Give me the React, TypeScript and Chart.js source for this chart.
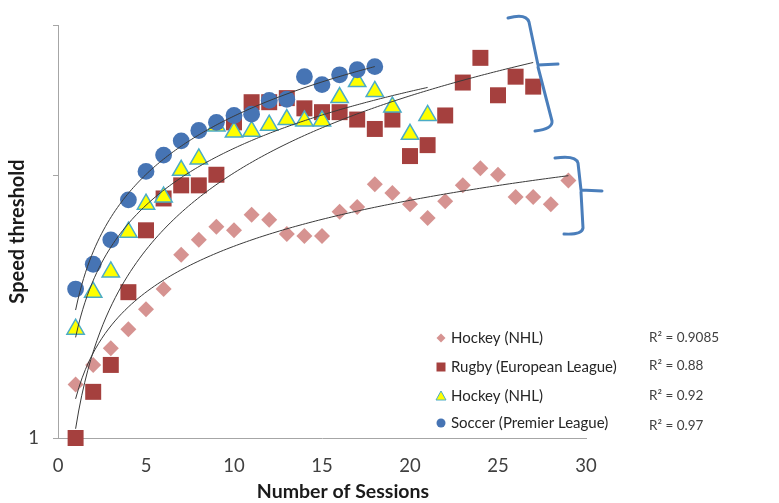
import React, { useEffect, useRef } from "react";
import { Chart, registerables } from "chart.js";

Chart.register(...registerables);

// ---- data ----
const X_TICKS = [0, 5, 10, 15, 20, 25, 30];
const Y_TICKS = [1, 10, 37.6];
const X_TITLE = "Number of Sessions";
const Y_TITLE = "Speed threshold";

const hockeyNhlA = [1.6, 1.9, 2.2, 2.6, 3.1, 3.7, 5.0, 5.7, 6.4, 6.2, 7.1, 6.8, 6.0, 5.9, 5.9, 7.3, 7.6, 9.3, 8.6, 7.8, 6.9, 8.0, 9.2, 10.7, 10.1, 8.3, 8.3, 7.8, 9.6];
const rugby = [1.0, 1.5, 1.9, 3.6, 6.2, 8.2, 9.2, 9.2, 10.1, 16.0, 19.1, 19.1, 19.8, 18.1, 17.5, 17.5, 16.4, 15.1, 16.4, 11.9, 13.1, 17.0, 22.7, 28.2, 20.3, 23.9, 21.9];
const hockeyNhlB = [2.6, 3.6, 4.3, 6.1, 7.8, 8.3, 10.5, 11.6, 15.5, 14.7, 14.8, 15.6, 16.4, 16.2, 16.2, 19.9, 22.9, 21.0, 18.3, 14.4, 17.0];
const soccer = [3.7, 4.6, 5.7, 8.1, 10.4, 12.0, 13.6, 14.9, 16.0, 17.0, 17.2, 19.4, 19.6, 23.9, 22.3, 24.3, 25.4, 26.1];

const LEGEND_LABELS = ["Hockey (NHL)", "Rugby (European League)", "Hockey (NHL)", "Soccer (Premier League)"];
const R2_LABELS = ["R² = 0.9085", "R² = 0.88", "R² = 0.92", "R² = 0.97"];

const COLORS = {
  diamond: "#d69391",
  square: "#a5403e",
  triFill: "#ffff00",
  triBorder: "#4bacc6",
  circle: "#4674b4",
  trend: "#3a3a3a",
  axis: "#a6a6a6",
  brace: "#4a7ebb",
};

const FONT = "Lato, 'Open Sans', sans-serif";

function toPoints(values: number[]) {
  return values.map((v, i) => ({ x: i + 1, y: v }));
}

// power trendline (least squares of ln y on ln x), as the spreadsheet does
function powerTrend(values: number[]) {
  const xs = values.map((_, i) => i + 1);
  const L = xs.map((x) => Math.log(x));
  const Y = values.map((v) => Math.log(v));
  const n = values.length;
  const mL = L.reduce((s, v) => s + v, 0) / n;
  const mY = Y.reduce((s, v) => s + v, 0) / n;
  let sxy = 0;
  let sxx = 0;
  for (let i = 0; i < n; i++) {
    sxy += (L[i] - mL) * (Y[i] - mY);
    sxx += (L[i] - mL) * (L[i] - mL);
  }
  const k = sxy / sxx;
  const c = Math.exp(mY - k * mL);
  const x0 = xs[0];
  const x1 = xs[n - 1];
  const pts: { x: number; y: number }[] = [];
  const steps = 150;
  for (let i = 0; i <= steps; i++) {
    const x = x0 + ((x1 - x0) * i) / steps;
    pts.push({ x, y: c * Math.pow(x, k) });
  }
  return pts;
}

function drawLegendMarker(ctx: CanvasRenderingContext2D, kind: number, x: number, y: number) {
  ctx.save();
  ctx.beginPath();
  if (kind === 0) {
    ctx.moveTo(x, y - 4.5);
    ctx.lineTo(x + 4.5, y);
    ctx.lineTo(x, y + 4.5);
    ctx.lineTo(x - 4.5, y);
    ctx.closePath();
    ctx.fillStyle = COLORS.diamond;
    ctx.fill();
  } else if (kind === 1) {
    ctx.rect(x - 4.5, y - 4.5, 9, 9);
    ctx.fillStyle = COLORS.square;
    ctx.fill();
  } else if (kind === 2) {
    ctx.moveTo(x, y - 5);
    ctx.lineTo(x + 5, y + 4);
    ctx.lineTo(x - 5, y + 4);
    ctx.closePath();
    ctx.fillStyle = COLORS.triFill;
    ctx.fill();
    ctx.lineWidth = 1;
    ctx.strokeStyle = COLORS.triBorder;
    ctx.stroke();
  } else {
    ctx.arc(x, y, 4.5, 0, Math.PI * 2);
    ctx.fillStyle = COLORS.circle;
    ctx.fill();
  }
  ctx.restore();
}

const annotationPlugin = {
  id: "annotations",
  afterDraw(chart: any) {
    const ctx: CanvasRenderingContext2D = chart.ctx;
    ctx.save();
    // x-axis title
    ctx.fillStyle = "#1a1a1a";
    ctx.font = `bold 19.5px ${FONT}`;
    ctx.textAlign = "center";
    ctx.textBaseline = "middle";
    ctx.fillText(X_TITLE, 343, 492);

    // legend
    const rows = [338, 367, 396, 423];
    const r2Rows = [338, 366, 396, 426];
    ctx.textAlign = "left";
    for (let i = 0; i < LEGEND_LABELS.length; i++) {
      drawLegendMarker(ctx, i, 441, rows[i]);
      ctx.fillStyle = "#262626";
      ctx.font = `15px ${FONT}`;
      ctx.fillText(LEGEND_LABELS[i], 451, rows[i]);
      ctx.fillStyle = "#404040";
      ctx.font = `13.5px ${FONT}`;
      ctx.fillText(R2_LABELS[i], 649, r2Rows[i]);
    }

    // braces
    ctx.strokeStyle = COLORS.brace;
    ctx.lineWidth = 3;
    ctx.lineCap = "round";
    ctx.lineJoin = "round";
    ctx.beginPath();
    ctx.moveTo(508, 18);
    ctx.quadraticCurveTo(526, 13, 529, 22);
    ctx.lineTo(538, 65);
    ctx.lineTo(558, 64);
    ctx.moveTo(538, 67);
    ctx.lineTo(552, 121);
    ctx.quadraticCurveTo(553, 129, 535, 131);
    ctx.stroke();

    ctx.beginPath();
    ctx.moveTo(555, 158);
    ctx.quadraticCurveTo(576, 155, 578, 163);
    ctx.lineTo(581, 190);
    ctx.lineTo(602, 191);
    ctx.moveTo(581, 192);
    ctx.lineTo(583, 228);
    ctx.quadraticCurveTo(582, 235, 564, 234);
    ctx.stroke();
    ctx.restore();
  },
};

export default function App() {
  const ref = useRef<HTMLCanvasElement | null>(null);

  useEffect(() => {
    document.body.style.margin = "0";
    const canvas = ref.current;
    if (!canvas) return;

    const trendStyle = {
      showLine: true,
      pointRadius: 0,
      borderColor: COLORS.trend,
      borderWidth: 1,
      backgroundColor: COLORS.trend,
      order: 0,
    };

    const chart = new Chart(canvas, {
      type: "scatter",
      data: {
        datasets: [
          { label: "trend soccer", data: powerTrend(soccer), ...trendStyle },
          { label: "trend hockey b", data: powerTrend(hockeyNhlB), ...trendStyle },
          { label: "trend rugby", data: powerTrend(rugby), ...trendStyle },
          { label: "trend hockey a", data: powerTrend(hockeyNhlA), ...trendStyle },
          {
            label: LEGEND_LABELS[3],
            data: toPoints(soccer),
            pointStyle: "circle",
            pointRadius: 8.4,
            backgroundColor: COLORS.circle,
            borderWidth: 0,
            order: 1,
            clip: false,
          },
          {
            label: LEGEND_LABELS[2],
            data: toPoints(hockeyNhlB),
            pointStyle: "triangle",
            pointRadius: 10,
            backgroundColor: COLORS.triFill,
            borderColor: COLORS.triBorder,
            borderWidth: 1.5,
            order: 2,
            clip: false,
          },
          {
            label: LEGEND_LABELS[1],
            data: toPoints(rugby),
            pointStyle: "rect",
            pointRadius: 11.3,
            backgroundColor: COLORS.square,
            borderWidth: 0,
            order: 3,
            clip: false,
          },
          {
            label: LEGEND_LABELS[0],
            data: toPoints(hockeyNhlA),
            pointStyle: "rectRot",
            pointRadius: 8,
            backgroundColor: COLORS.diamond,
            borderWidth: 0,
            order: 4,
            clip: false,
          },
        ] as any,
      },
      options: {
        animation: false,
        responsive: false,
        events: [],
        layout: { padding: { top: 22, right: 193, bottom: 0, left: 0 } },
        plugins: { legend: { display: false }, tooltip: { enabled: false } },
        scales: {
          x: {
            type: "linear",
            min: X_TICKS[0],
            max: X_TICKS[X_TICKS.length - 1],
            afterBuildTicks: (s: any) => {
              s.ticks = X_TICKS.map((v) => ({ value: v }));
            },
            ticks: {
              font: { family: FONT, size: 18.5 },
              color: "#404040",
              padding: 17,
              maxRotation: 0,
            },
            grid: { display: false, drawTicks: false },
            border: { display: true, color: COLORS.axis, width: 1 },
            afterFit: (s: any) => {
              s.height = 65;
            },
          },
          y: {
            type: "logarithmic",
            min: Y_TICKS[0],
            max: Y_TICKS[Y_TICKS.length - 1],
            afterBuildTicks: (s: any) => {
              s.ticks = Y_TICKS.map((v) => ({ value: v }));
            },
            ticks: {
              font: { family: FONT, size: 18.5 },
              color: "#404040",
              padding: 14,
              callback: (v: any) => (Number(v) === 1 ? "1" : ""),
            },
            grid: { drawOnChartArea: false, drawTicks: true, tickLength: 5, color: COLORS.axis },
            border: { display: true, color: COLORS.axis, width: 1 },
            title: {
              display: true,
              text: Y_TITLE,
              color: "#1a1a1a",
              font: { family: FONT, size: 20, weight: "bold" },
              padding: { top: 6, bottom: 0 },
            },
            afterFit: (s: any) => {
              s.width = 58;
            },
          },
        },
      } as any,
      plugins: [annotationPlugin],
    });

    return () => chart.destroy();
  }, []);

  return (
    <div style={{ width: 779, height: 503, background: "#ffffff" }}>
      <canvas ref={ref} width={779} height={503} style={{ display: "block" }} />
    </div>
  );
}
